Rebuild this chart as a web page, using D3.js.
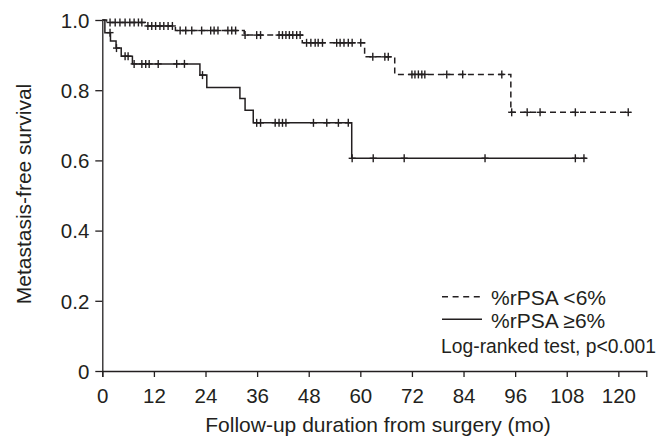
<!DOCTYPE html>
<html>
<head>
<meta charset="utf-8">
<script src="https://cdn.jsdelivr.net/npm/d3@7"></script>
<style>
  html, body { margin: 0; padding: 0; background: #fff; }
  svg { display: block; font-family: "Liberation Sans", Arial, sans-serif; }
</style>
</head>
<body>
<svg id="chart" width="662" height="439"></svg>
<script>
// ---- data ----
const xTicks = [0, 12, 24, 36, 48, 60, 72, 84, 96, 108, 120];
const yTicks = [0, 0.2, 0.4, 0.6, 0.8, 1.0];
const yTickLabels = ["0", "0.2", "0.4", "0.6", "0.8", "1.0"];

// %rPSA <6% (dashed)
const lowTimes = [0, 1, 10, 17, 33, 46.5, 61, 68, 95];
const lowSurv  = [1.0, 0.993, 0.983, 0.970, 0.957, 0.935, 0.895, 0.845, 0.737];
const lowEnd = 122.8;
const lowCensor = [1.8, 3, 4.1, 5.3, 6.4, 7.4, 8.4, 9.2, 10.6, 11.5, 12.4, 13.4, 14.3, 15.3, 16.3,
  18.1, 19.4, 20.8, 23.1, 25.2, 26, 26.9, 29.2, 30.1, 31, 33.2, 35.9, 36.8, 41.1, 41.9, 42.7,
  43.5, 44.3, 45.2, 46, 47.5, 48.5, 49.5, 50.2, 51.2, 54.5, 55.3, 56.2, 57.2, 58.1, 60.1,
  62.9, 65.7, 66.5, 72, 72.7, 73.5, 74.3, 75, 80.1, 83.8, 92.9, 95.2, 98.8, 101.8, 110, 122.3];

// %rPSA >=6% (solid)
const highTimes = [0, 0.6, 1.9, 3.2, 4.4, 7, 22.7, 24.3, 32, 33.2, 35.1, 58];
const highSurv  = [1.0, 0.964, 0.94, 0.92, 0.897, 0.875, 0.843, 0.808, 0.776, 0.743, 0.707, 0.606];
const highEnd = 112.6;
const highCensor = [1.8, 3.3, 5.3, 6, 7.4, 9.2, 10.1, 10.9, 13, 17.3, 19.1, 23.3, 35.9, 36.8,
  40.2, 41.1, 41.9, 42.7, 49.1, 52.2, 54.9, 57.2, 58.1, 63, 70.2, 89, 110, 112];

const legendLabels = ["%rPSA <6%", "%rPSA \u22656%"];
const testText = "Log-ranked test, p<0.001";
const xTitle = "Follow-up duration from surgery (mo)";
const yTitle = "Metastasis-free survival";

// ---- drawing ----
const ink = "#231f20";
const svg = d3.select("#chart");
const x = d3.scaleLinear().domain([0, 126.5]).range([102.3, 646.3]);
const y = d3.scaleLinear().domain([0, 1]).range([371, 20]);

function survAt(times, surv, t) {
  let v = surv[0];
  for (let i = 0; i < times.length; i++) if (times[i] <= t) v = surv[i];
  return v;
}

// axes
const xAxis = d3.axisBottom(x).tickValues(xTicks).tickSize(6).tickSizeOuter(6).tickPadding(8);
const gx = svg.append("g").attr("transform", `translate(0,${y(0)})`).call(xAxis);
const yAxis = d3.axisLeft(y).tickValues(yTicks).tickFormat((d, i) => yTickLabels[i])
  .tickSize(7).tickSizeOuter(0).tickPadding(6);
const gy = svg.append("g").attr("transform", `translate(${x(0)},0)`).call(yAxis);
[gx, gy].forEach(g => {
  g.selectAll("path, line").attr("stroke", ink).attr("stroke-width", 1.3);
  g.selectAll("text").attr("fill", ink).style("font-size", "20.5px")
    .style("font-family", "'Liberation Sans', Arial, sans-serif");
});
gx.selectAll("text").attr("dy", null).attr("y", 32);
gy.selectAll("text").attr("dy", "0.36em");

// titles
svg.append("text").attr("x", 378).attr("y", 432)
  .attr("text-anchor", "middle").attr("fill", ink).style("font-size", "21px").text(xTitle);
svg.append("text").attr("transform", `translate(31,194) rotate(-90)`)
  .attr("text-anchor", "middle").attr("fill", ink).style("font-size", "21px").text(yTitle);

// curves
const line = d3.line().x(d => x(d[0])).y(d => y(d[1])).curve(d3.curveStepAfter);
function pts(times, surv, end) {
  const p = times.map((t, i) => [t, surv[i]]);
  p.push([end, surv[surv.length - 1]]);
  return p;
}
svg.append("path").datum(pts(highTimes, highSurv, highEnd)).attr("d", line)
  .attr("fill", "none").attr("stroke", ink).attr("stroke-width", 1.5);
svg.append("path").datum(pts(lowTimes, lowSurv, lowEnd)).attr("d", line)
  .attr("fill", "none").attr("stroke", ink).attr("stroke-width", 1.5)
  .attr("stroke-dasharray", "6,4");

function censor(times, surv, list) {
  const g = svg.append("g").attr("stroke", ink).attr("stroke-width", 1.4);
  list.forEach(t => {
    const cx = x(t), cy = y(survAt(times, surv, t));
    g.append("line").attr("x1", cx).attr("x2", cx).attr("y1", cy - 4).attr("y2", cy + 4);
    g.append("line").attr("x1", cx - 3.5).attr("x2", cx + 3.5).attr("y1", cy).attr("y2", cy);
  });
}
censor(lowTimes, lowSurv, lowCensor);
censor(highTimes, highSurv, highCensor);

// legend
const lg = svg.append("g");
lg.append("line").attr("x1", 442).attr("x2", 482).attr("y1", 296.7).attr("y2", 296.7)
  .attr("stroke", ink).attr("stroke-width", 1.5).attr("stroke-dasharray", "6,4.6");
lg.append("line").attr("x1", 442).attr("x2", 482).attr("y1", 319.3).attr("y2", 319.3)
  .attr("stroke", ink).attr("stroke-width", 1.5);
lg.append("text").attr("x", 491).attr("y", 304.5).attr("fill", ink).style("font-size", "21px").text(legendLabels[0]);
lg.append("text").attr("x", 491).attr("y", 327.5).attr("fill", ink).style("font-size", "21px").text(legendLabels[1]);
lg.append("text").attr("x", 656).attr("y", 352.5).attr("text-anchor", "end").attr("fill", ink)
  .style("font-size", "19.3px").text(testText);
</script>
</body>
</html>
